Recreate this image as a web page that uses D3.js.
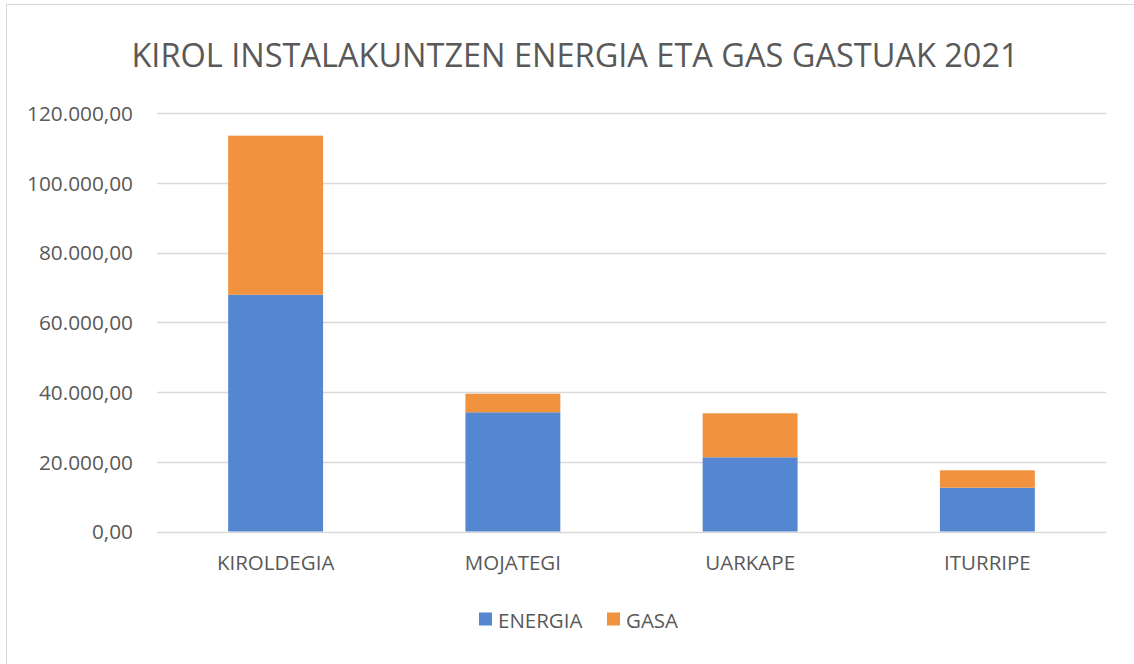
<!DOCTYPE html>
<html><head><meta charset="utf-8">
<script src="https://cdn.jsdelivr.net/npm/d3@7"></script>
<style>body{margin:0;background:#fff}svg{display:block}text{font-family:"Open Sans",sans-serif;fill:#595959}</style>
</head><body>
<svg id="c" width="1134" height="664"></svg>
<script>
const title = "KIROL INSTALAKUNTZEN ENERGIA ETA GAS GASTUAK 2021";
const categories = ["KIROLDEGIA","MOJATEGI","UARKAPE","ITURRIPE"];
const seriesNames = ["ENERGIA","GASA"];
const energia = [67900, 34180, 21280, 12560];
const gasa = [45600, 5330, 12610, 4990];
const yTicks = [0,20000,40000,60000,80000,100000,120000];
const colors = ["#5586d0","#f1923f"];

const svg = d3.select("#c");
const W=1134,H=664;
svg.append("rect").attr("x",6.5).attr("y",4.5).attr("width",W+10).attr("height",H+10)
  .attr("fill","#fff").attr("stroke","#d9d9d9");

const x = d3.scaleBand().domain(categories).range([157,1106]).paddingInner(0.6).paddingOuter(0.3);
const y = d3.scaleLinear().domain([0,120000]).range([531.5,113]);

const fmt = v => d3.formatLocale({decimal:",",thousands:".",grouping:[3],currency:["","€"]}).format(",.2f")(v);

svg.append("g").selectAll("line").data(yTicks).join("line")
  .attr("x1",157).attr("x2",1106).attr("y1",d=>Math.round(y(d))+0.5).attr("y2",d=>Math.round(y(d))+0.5)
  .attr("stroke","#d9d9d9").attr("stroke-width",1.3);

const yAxis = d3.axisLeft(y).tickValues(yTicks).tickFormat(fmt).tickSize(0).tickPadding(0);
const ga = svg.append("g").attr("transform","translate(133,0)").call(yAxis);
ga.select(".domain").remove();
ga.selectAll("text").attr("font-size",20.8).style("font-family","'Open Sans',sans-serif").attr("fill","#595959").attr("dy","0.35em");

const stackData = categories.map((c,i)=>({cat:c, ENERGIA:energia[i], GASA:gasa[i]}));
const stack = d3.stack().keys(seriesNames)(stackData);
svg.append("g").selectAll("g").data(stack).join("g").attr("fill",(d,i)=>colors[i])
  .selectAll("rect").data(d=>d).join("rect")
  .attr("x",d=>x(d.data.cat)).attr("width",x.bandwidth())
  .attr("y",d=>y(d[1])).attr("height",d=>y(d[0])-y(d[1]));

const xAxis = d3.axisBottom(x).tickSize(0).tickPadding(0);
const gx = svg.append("g").attr("transform","translate(0,563)").call(xAxis);
gx.select(".domain").remove();
gx.selectAll("text").attr("font-size",20.5).style("font-family","'Open Sans',sans-serif").attr("fill","#595959").attr("dy","0.35em");

svg.append("text").attr("x",575).attr("y",67).attr("text-anchor","middle")
  .attr("font-size",32.5).text(title);

const leg = svg.append("g");
const lx=[479,607];
seriesNames.forEach((s,i)=>{
  leg.append("rect").attr("x",lx[i]).attr("y",612.5).attr("width",13).attr("height",13).attr("fill",colors[i]);
  leg.append("text").attr("x",lx[i]+19).attr("y",621).attr("dy","0.35em").attr("font-size",20.5).text(s);
});
</script>
</body></html>
